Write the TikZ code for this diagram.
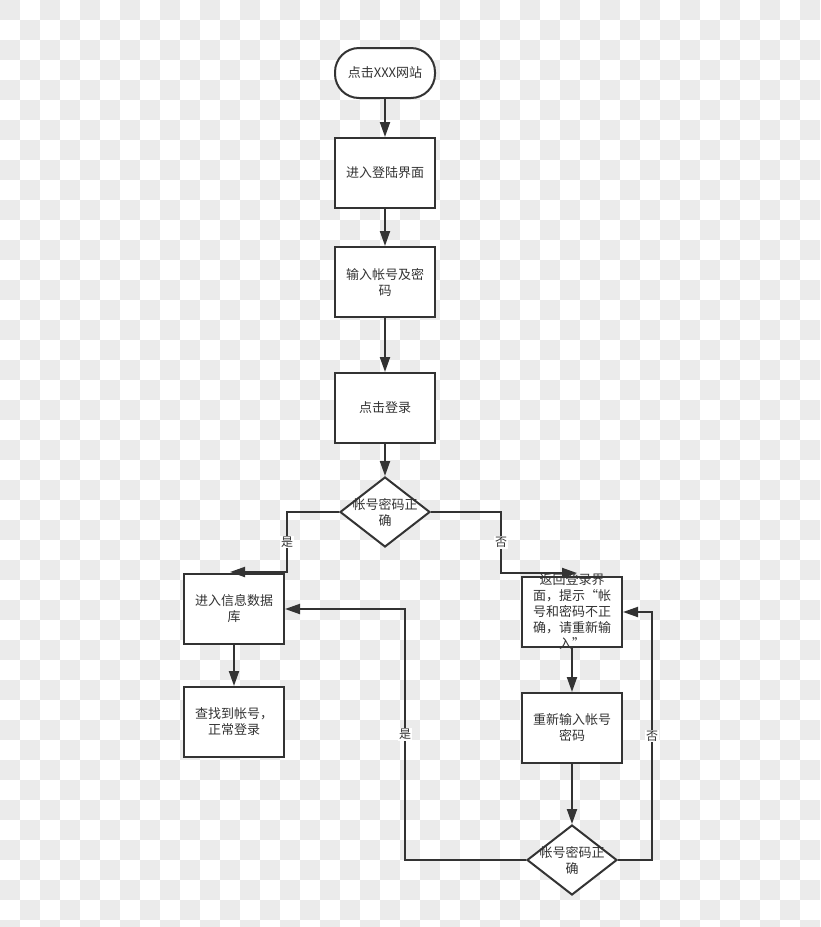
\documentclass[tikz,border=0pt]{standalone}
\usepackage{fontspec}
\setmainfont{Noto Sans CJK SC}
\usetikzlibrary{shapes.geometric,arrows.meta}
\definecolor{linec}{HTML}{333333}
\definecolor{cellc}{HTML}{EBEBEB}
\tikzset{
  txt/.style={text=linec, font=\fontsize{13}{16}\selectfont, align=center, inner sep=0pt},
  box/.style={txt, draw=linec, line width=2pt, fill=white, minimum width=100pt, minimum height=70pt},
  term/.style={box, minimum height=50pt, rounded corners=24pt},
  dec/.style={draw=linec, line width=2pt, fill=white, diamond, minimum width=90pt, minimum height=70pt, inner sep=0pt},
  link/.style={draw=linec, line width=2pt, -{Triangle[length=15pt,width=10pt]}},
  lbl/.style={fill=white, text=linec, font=\fontsize{12}{14}\selectfont, inner sep=1pt}
}
\begin{document}
\begin{tikzpicture}[x=1pt,y=-1pt]
  \useasboundingbox (0,0) rectangle (820,927);
  \begin{scope}
    \clip (0,0) rectangle (820,927);
    \fill[white] (0,0) rectangle (820,927);
    \foreach \j in {0,...,46}{
      \foreach \i in {0,...,40}{
        \pgfmathparse{int(mod(\i+\j,2))}
        \ifnum\pgfmathresult=0 \fill[cellc] (20*\i,20*\j) rectangle ++(20,20); \fi
      }
    }
  \end{scope}

  \node[term] (start) at (385,73) {点击XXX网站};
  \node[box] (login) at (385,173) {进入登陆界面};
  \node[box] (input) at (385,282) {输入帐号及密\\码};
  \node[box] (click) at (385,408) {点击登录};
  \node[dec] (check) at (385,512) {};
  \node[txt] (checkt) at (check) {帐号密码正\\确};
  \node[box] (db) at (234,609) {进入信息数据\\库};
  \node[box] (found) at (234,722) {查找到帐号，\\正常登录};
  \node[box] (back) at (572,612) {};
  \node[txt] (backt) at (back) {返回登录界\\面，提示“帐\\号和密码不正\\确，请重新输\\入”};
  \node[box] (again) at (572,728) {重新输入帐号\\密码};
  \node[dec] (recheck) at (572,860) {};
  \node[txt] (recheckt) at (recheck) {帐号密码正\\确};

  \coordinate (yes1) at (287,572);
  \coordinate (yes1e) at (230,572);
  \coordinate (no1) at (501,573);
  \coordinate (no1e) at (577,573);
  \coordinate (yes2) at (405,609);
  \coordinate (no2) at (652,612);

  \draw[link] (start)--(login);
  \draw[link] (login)--(input);
  \draw[link] (input)--(click);
  \draw[link] (click)--(check);
  \draw[link] (check.west) -| node[lbl, pos=0.75] {是} (yes1) -- (yes1e);
  \draw[link] (check.east) -| node[lbl, pos=0.75] {否} (no1) -- (no1e);
  \draw[link] (db)--(found);
  \draw[link] (back)--(again);
  \draw[link] (again)--(recheck);
  \draw[link] (recheck.west) -| node[lbl, pos=0.75] {是} (yes2) -- (db.east);
  \draw[link] (recheck.east) -| node[lbl, pos=0.75] {否} (no2) -- (back.east);
\end{tikzpicture}
\end{document}
